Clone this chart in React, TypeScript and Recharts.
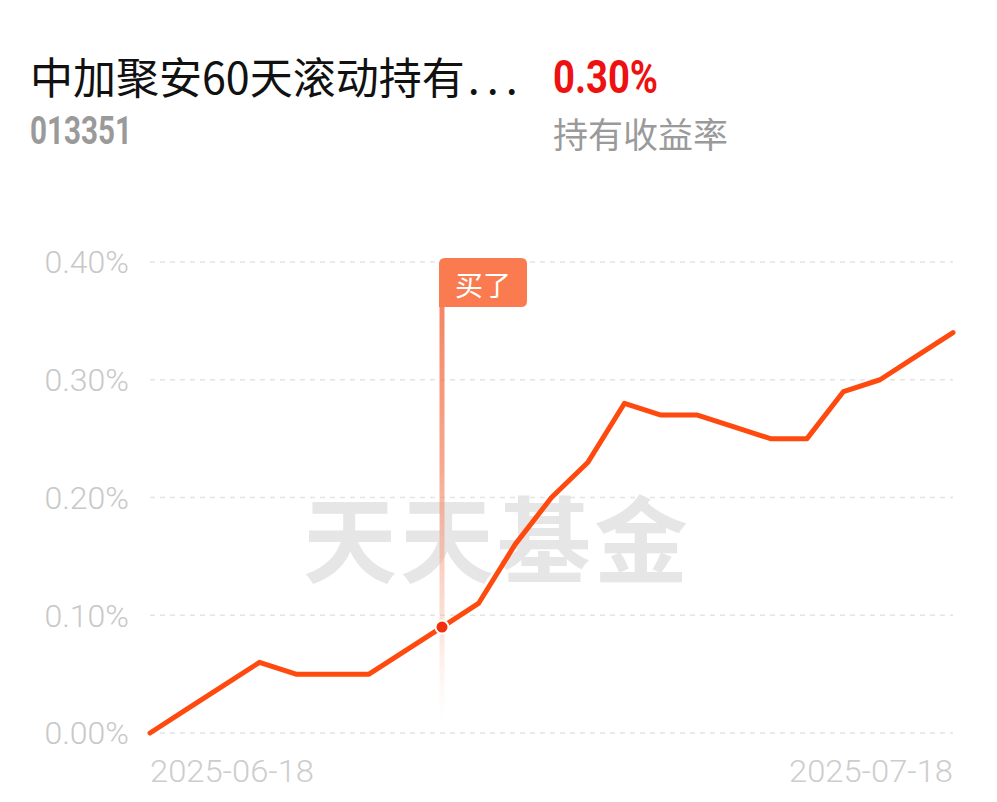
import React from 'react';
import { LineChart, Line, XAxis, YAxis, CartesianGrid, ReferenceLine, ReferenceDot } from 'recharts';

const fundName = '中加聚安60天滚动持有';
const fundNameEllipsis = '...';
const fundCode = '013351';
const holdReturn = '0.30%';
const holdReturnLabel = '持有收益率';
const watermark = '天天基金';

const dates = [
  '2025-06-18', '2025-06-19', '2025-06-20', '2025-06-23', '2025-06-24', '2025-06-25',
  '2025-06-26', '2025-06-27', '2025-06-30', '2025-07-01', '2025-07-02', '2025-07-03',
  '2025-07-04', '2025-07-07', '2025-07-08', '2025-07-09', '2025-07-10', '2025-07-11',
  '2025-07-14', '2025-07-15', '2025-07-16', '2025-07-17', '2025-07-18',
];
const returns = [
  0.0, 0.02, 0.04, 0.06, 0.05, 0.05,
  0.05, 0.07, 0.09, 0.11, 0.16, 0.2,
  0.23, 0.28, 0.27, 0.27, 0.26, 0.25,
  0.25, 0.29, 0.3, 0.32, 0.34,
];
const yTicks = [0, 0.1, 0.2, 0.3, 0.4];
const xTicks = ['2025-06-18', '2025-07-18'];
const buyDate = '2025-06-30';
const buyValue = 0.09;
const buyLabel = '买了';

const data = dates.map((d, i) => ({ date: d, value: returns[i] }));

const XTick = (props: any) => {
  const { x, y, payload } = props;
  const isFirst = payload.value === xTicks[0];
  return (
    <text
      x={x}
      y={y}
      dy={49}
      textAnchor={isFirst ? 'start' : 'end'}
      fill="#cdcdcd"
      fontSize={32}
      fontWeight={300}
      fontFamily="Roboto, sans-serif"
      textLength={164}
      lengthAdjust="spacingAndGlyphs"
    >
      {payload.value}
    </text>
  );
};

const BuyShape = (props: any) => {
  const { x1, y1, y2 } = props;
  const top = Math.min(y1, y2);
  const bottom = Math.max(y1, y2);
  const x = x1;
  const bx0 = x - 3;
  const bx1 = x + 85;
  const by0 = top - 4;
  const by1 = top + 45;
  const r = 6;
  const path = `M ${bx0} ${by0 + r} Q ${bx0} ${by0} ${bx0 + r} ${by0} L ${bx1 - r} ${by0} Q ${bx1} ${by0} ${bx1} ${by0 + r} L ${bx1} ${by1 - r} Q ${bx1} ${by1} ${bx1 - r} ${by1} L ${bx0} ${by1} Z`;
  return (
    <g>
      <defs>
        <linearGradient id="buyFade" x1="0" y1="0" x2="0" y2="1">
          <stop offset="0%" stopColor="#F47A52" stopOpacity={1} />
          <stop offset="45%" stopColor="#F58D6B" stopOpacity={0.75} />
          <stop offset="78%" stopColor="#F8B39C" stopOpacity={0.4} />
          <stop offset="100%" stopColor="#FCE0D6" stopOpacity={0} />
        </linearGradient>
      </defs>
      <rect x={x - 2.5} y={top} width={5} height={bottom - top - 8} fill="url(#buyFade)" />
      <path d={path} fill="#F97B4F" />
      <text
        x={(bx0 + bx1) / 2}
        y={(by0 + by1) / 2 + 1}
        textAnchor="middle"
        dominantBaseline="central"
        fill="#ffffff"
        fontSize={28}
        fontFamily="'Noto Sans CJK SC', sans-serif"
      >
        {buyLabel}
      </text>
    </g>
  );
};

export default function App() {
  return (
    <div style={{ position: 'absolute', left: 0, top: 0, width: 997, height: 802, background: '#ffffff', overflow: 'hidden' }}>
      <div
        style={{
          position: 'absolute', left: 30, top: 54, fontSize: 43, lineHeight: 1,
          fontFamily: "'Noto Sans CJK SC', sans-serif", color: '#111111', whiteSpace: 'nowrap',
        }}
      >
        {fundName}
        <span style={{ letterSpacing: 7, marginLeft: 3 }}>{fundNameEllipsis}</span>
      </div>
      <div
        style={{
          position: 'absolute', left: 553, top: 54, fontSize: 46, lineHeight: 1, fontWeight: 700,
          fontFamily: 'Roboto, sans-serif', color: '#EE1111', transform: 'scaleX(0.83)', transformOrigin: 'left center',
          whiteSpace: 'nowrap',
        }}
      >
        {holdReturn}
      </div>
      <div
        style={{
          position: 'absolute', left: 30, top: 112, fontSize: 38, lineHeight: 1, fontWeight: 700,
          fontFamily: 'Roboto, sans-serif', color: '#9a9a9a', transform: 'scaleX(0.78)', transformOrigin: 'left center',
          whiteSpace: 'nowrap',
        }}
      >
        {fundCode}
      </div>
      <div
        style={{
          position: 'absolute', left: 553, top: 115, fontSize: 35, lineHeight: 1,
          fontFamily: "'Noto Sans CJK SC', sans-serif", color: '#9a9a9a', whiteSpace: 'nowrap',
        }}
      >
        {holdReturnLabel}
      </div>
      <div
        style={{
          position: 'absolute', left: 303, top: 488, fontSize: 94, lineHeight: 1, fontWeight: 700,
          fontFamily: "'Noto Sans CJK SC', sans-serif", color: '#e6e6e6', whiteSpace: 'nowrap', letterSpacing: 3,
        }}
      >
        {watermark}
      </div>
      <div style={{ position: 'absolute', left: 0, top: 0 }}>
        <LineChart width={997} height={802} data={data} margin={{ top: 262, right: 44, bottom: 9, left: 0 }}>
          <CartesianGrid vertical={false} stroke="#e4e4e4" strokeDasharray="5 5" strokeWidth={1.5} />
          <XAxis
            dataKey="date"
            ticks={xTicks}
            interval={0}
            axisLine={false}
            tickLine={false}
            tickSize={0}
            tickMargin={0}
            height={60}
            tick={<XTick />}
          />
          <YAxis
            domain={[0, 0.4]}
            ticks={yTicks}
            width={150}
            axisLine={false}
            tickLine={false}
            tickSize={0}
            tickMargin={21}
            tickFormatter={(v: number) => `${v.toFixed(2)}%`}
            tick={{ fill: '#c8c8c8', fontSize: 32, fontWeight: 300, fontFamily: 'Roboto, sans-serif' }}
          />
          <ReferenceLine x={buyDate} stroke="none" shape={BuyShape} ifOverflow="visible" />
          <Line
            type="linear"
            dataKey="value"
            stroke="#FF4A0F"
            strokeWidth={5}
            dot={false}
            activeDot={false}
            isAnimationActive={false}
            strokeLinejoin="round"
            strokeLinecap="round"
          />
          <ReferenceDot x={buyDate} y={buyValue} r={6.5} fill="#F2300C" stroke="#ffffff" strokeWidth={2} ifOverflow="visible" />
        </LineChart>
      </div>
    </div>
  );
}
